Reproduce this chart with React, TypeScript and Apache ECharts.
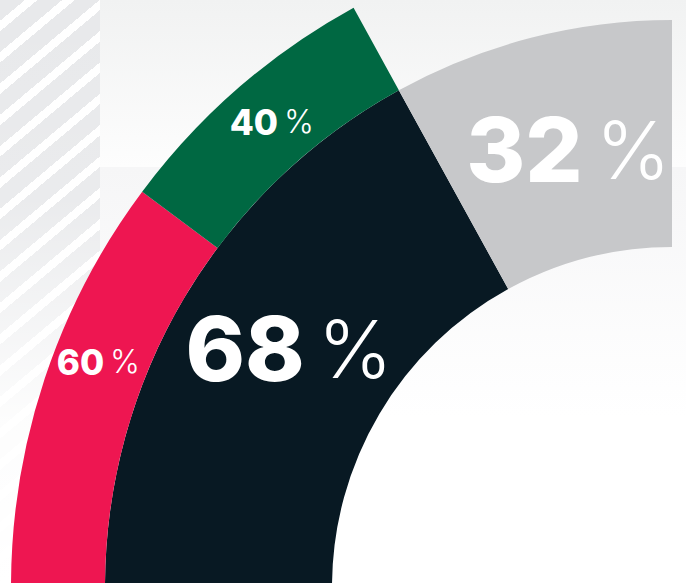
import React, { useEffect, useRef } from "react";
import * as echarts from "echarts";

// inner ring: share of total
const innerNames = ["Dark", "Rest"];
const innerValues = [68, 32];
const innerColors = ["#081923", "#c7c8ca"];

// outer ring: split of the 68 % part
const outerNames = ["Red", "Green"];
const outerValues = [60, 40];
const outerColors = ["#ee1651", "#006842"];

const FONT = "Inter, 'Open Sans', sans-serif";

export default function App() {
  const ref = useRef<HTMLDivElement>(null);

  useEffect(() => {
    if (!ref.current) return;
    const chart = echarts.init(ref.current, undefined, { renderer: "svg" });
    const cx = 672;
    const cy = 587;
    const rIn = 340;
    const rMid = 567;
    const rOut = 661;
    const outerEnd = 180 - (90 * innerValues[0]) / (innerValues[0] + innerValues[1]);

    const bigRich = {
      n: { fontFamily: FONT, fontWeight: 800, fontSize: 90, color: "#ffffff", lineHeight: 100 },
      p: { fontFamily: FONT, fontWeight: 300, fontSize: 80, color: "#ffffff", lineHeight: 100, padding: [0, 0, 0, 13] },
    };
    const smallRich = {
      n: { fontFamily: FONT, fontWeight: 800, fontSize: 35, color: "#ffffff", lineHeight: 40 },
      p: { fontFamily: FONT, fontWeight: 300, fontSize: 32, color: "#ffffff", lineHeight: 40, padding: [0, 0, 0, 6] },
    };

    const innerOffsets = [
      { dx: 10, dy: -6 },
      { dx: 10, dy: 5 },
    ];
    const outerOffsets = [
      { dx: 12, dy: -31 },
      { dx: 5, dy: 0 },
    ];

    chart.setOption({
      animation: false,
      backgroundColor: "transparent",
      series: [
        {
          type: "pie",
          center: [cx, cy],
          radius: [rIn, rMid],
          startAngle: 180,
          endAngle: 90,
          clockwise: true,
          silent: true,
          emphasis: { disabled: true },
          itemStyle: { borderWidth: 0 },
          label: {
            show: true,
            position: "inside",
            formatter: (p: any) => `{n|${p.value}}{p|%}`,
            rich: bigRich,
          },
          labelLine: { show: false },
          labelLayout: (params: any) => innerOffsets[params.dataIndex] || {},
          data: innerValues.map((v, i) => ({
            name: innerNames[i],
            value: v,
            itemStyle: { color: innerColors[i] },
          })),
        },
        {
          type: "pie",
          center: [cx, cy],
          radius: [rMid, rOut],
          startAngle: 180,
          endAngle: outerEnd,
          clockwise: true,
          silent: true,
          emphasis: { disabled: true },
          itemStyle: { borderWidth: 0 },
          label: {
            show: true,
            position: "inside",
            formatter: (p: any) => `{n|${p.value}}{p|%}`,
            rich: smallRich,
          },
          labelLine: { show: false },
          labelLayout: (params: any) => outerOffsets[params.dataIndex] || {},
          data: outerValues.map((v, i) => ({
            name: outerNames[i],
            value: v,
            itemStyle: { color: outerColors[i] },
          })),
        },
      ],
    });
    return () => chart.dispose();
  }, []);

  return (
    <div
      style={{
        position: "fixed",
        left: 0,
        top: 0,
        width: 686,
        height: 583,
        overflow: "hidden",
        background: "#ffffff",
      }}
    >
      <div
        style={{
          position: "absolute",
          left: 100,
          top: 167,
          width: 586,
          height: 416,
          background: "linear-gradient(to bottom, #f6f6f7 0%, #ffffff 60%)",
        }}
      />
      <div
        style={{
          position: "absolute",
          left: 100,
          top: 0,
          width: 586,
          height: 167,
          background: "linear-gradient(to bottom, #f1f2f2 0%, #fdfdfd 100%)",
        }}
      />
      <div
        style={{
          position: "absolute",
          left: 0,
          top: 0,
          width: 100,
          height: 583,
          background:
            "linear-gradient(to bottom, rgba(255,255,255,0) 0px, rgba(255,255,255,0.1) 200px, rgba(255,255,255,0.9) 420px, #ffffff 583px), repeating-linear-gradient(140deg, #e8e9eb 0px, #e8e9eb 16px, #ffffff 16px, #ffffff 24px)",
        }}
      />
      <div
        ref={ref}
        style={{ position: "absolute", left: 0, top: 0, width: 686, height: 583 }}
      />
    </div>
  );
}
